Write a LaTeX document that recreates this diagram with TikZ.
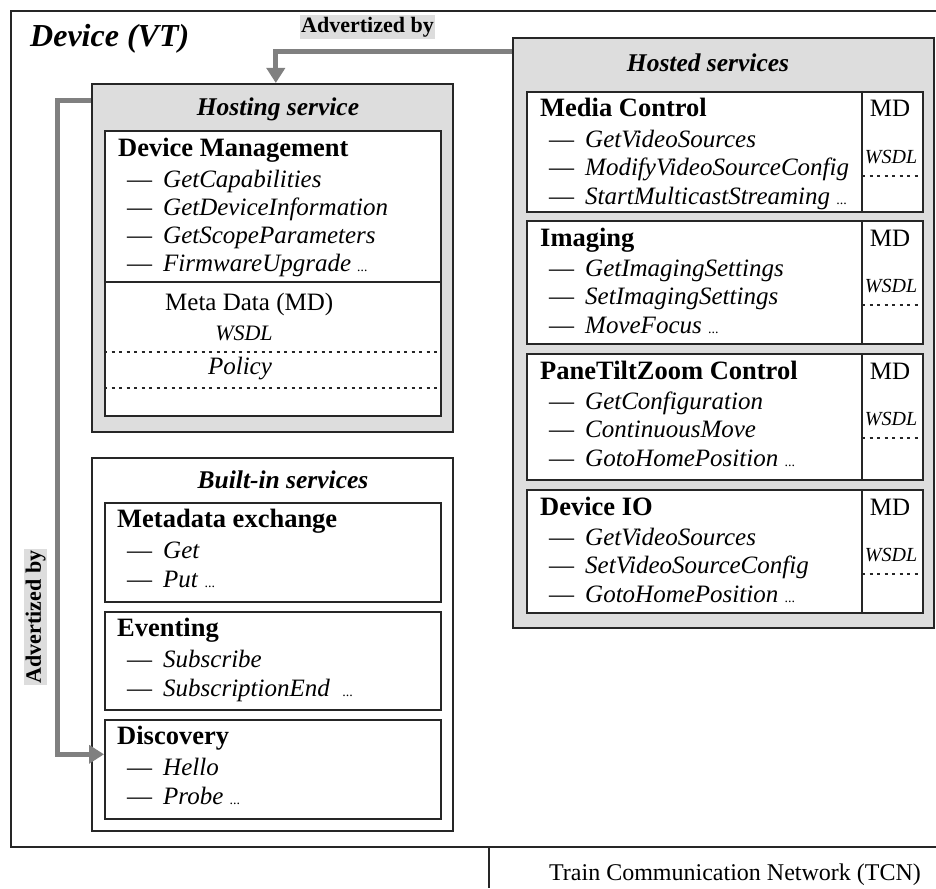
\documentclass[tikz,border=0pt]{standalone}
\usepackage{fontspec}
\setmainfont{Liberation Serif}
\usetikzlibrary{arrows.meta}
\definecolor{panelgray}{RGB}{221,221,221}
\definecolor{linkgray}{RGB}{128,128,128}
\newcommand{\moredots}{~{\fontsize{14}{14}\selectfont...}}

\begin{document}
\begin{tikzpicture}[x=1pt,y=-1pt,
  frame/.style={draw=black!85,line width=1.6pt},
  box/.style={frame,anchor=north west,inner sep=0pt,fill=white},
  head/.style={anchor=base west,inner sep=0pt,font=\fontsize{26.5}{30}\selectfont\bfseries},
  caption/.style={anchor=base,inner sep=0pt,font=\fontsize{25.5}{30}\selectfont\bfseries\itshape},
  item/.style={anchor=base west,inner sep=0pt,font=\fontsize{25}{28}\selectfont},
  small/.style={anchor=base,inner sep=0pt,font=\fontsize{20}{24}\selectfont\itshape},
  dots/.style={draw=black!85,line width=1.4pt,dash pattern=on 3pt off 4.5pt},
  link/.style={draw=linkgray,line width=5pt,-{Triangle[width=18pt,length=15pt]}},
  tag/.style={fill=panelgray,inner sep=1.5pt,font=\fontsize{22}{24}\selectfont\bfseries}]

\useasboundingbox (0,0) rectangle (936,888);

% device frame (open to the right) and the TCN below it
\draw[frame] (936,11) -- (11,11) -- (11,847) -- (936,847);
\draw[frame] (489,847) -- (489,888);
\node[anchor=base west,inner sep=0pt,font=\fontsize{32}{36}\selectfont\bfseries\itshape] (dev) at (30,47) {Device (VT)};
\node[anchor=base,inner sep=0pt,font=\fontsize{24}{28}\selectfont] (tcn) at (735,880) {Train Communication Network (TCN)};

% hosting service
\node[box,fill=panelgray,minimum width=361pt,minimum height=348pt] (hosting) at (91,83) {};
\node[caption] (hostingtitle) at (278,115) {Hosting service};
\node[box,minimum width=336pt,minimum height=285pt] (devmgmt) at (104,130) {};
\draw[frame] (104,282) -- (440,282);
\draw[dots] (104,352) -- (440,352);
\draw[dots] (104,388) -- (440,388);
\node[head] (devmgmthead) at (118,156) {Device Management};
\foreach \t [count=\i] in {GetCapabilities,GetDeviceInformation,GetScopeParameters,FirmwareUpgrade\moredots}
  \node[item] at (127,159+28*\i) {\textemdash\hspace{11pt}\textit{\t}};
\node[item] (meta) at (165,310) {Meta Data (MD)};
\node[small,font=\fontsize{22}{24}\selectfont\itshape] (wsdl) at (244,340) {WSDL};
\node[item,anchor=base] (policy) at (240,374) {\textit{Policy}};

% built-in services
\node[box,minimum width=361pt,minimum height=373pt] (builtin) at (91,457) {};
\node[caption] (builtintitle) at (283,488) {Built-in services};
\foreach \ytop/\yht/\nm/\hd/\a/\b in {502/99/mex/Metadata exchange/Get/Put,
    611/98/evt/Eventing/Subscribe/SubscriptionEnd~,
    719/99/disc/Discovery/Hello/Probe} {
  \node[box,minimum width=336pt,minimum height=\yht pt] (\nm) at (104,\ytop) {};
  \node[head] at (117,\ytop+25) {\hd};
  \node[item] at (127,\ytop+56) {\textemdash\hspace{11pt}\textit{\a}};
  \node[item] at (127,\ytop+85) {\textemdash\hspace{11pt}\textit{\b}\moredots};
}

% hosted services
\node[box,fill=panelgray,minimum width=421pt,minimum height=590pt] (hosted) at (512,37) {};
\node[caption] (hostedtitle) at (708,72) {Hosted services};
\foreach \ytop/\yht/\nm/\hd/\a/\b/\c in {91/120/media/Media Control/GetVideoSources/ModifyVideoSourceConfig/StartMulticastStreaming,
    220/123/imaging/Imaging/GetImagingSettings/SetImagingSettings/MoveFocus,
    353/126/ptz/PaneTiltZoom Control/GetConfiguration/ContinuousMove/GotoHomePosition,
    489/123/devio/Device IO/GetVideoSources/SetVideoSourceConfig/GotoHomePosition} {
  \node[box,minimum width=396pt,minimum height=\yht pt] (\nm) at (526,\ytop) {};
  \draw[frame] (862,\ytop) -- (862,\ytop+\yht);
  \draw[dots] (862,\ytop+85) -- (922,\ytop+85);
  \node[head] at (540,\ytop+26) {\hd};
  \node[item] at (549,\ytop+56) {\textemdash\hspace{11pt}\textit{\a}};
  \node[item] at (549,\ytop+84.5) {\textemdash\hspace{11pt}\textit{\b}};
  \node[item] at (549,\ytop+113) {\textemdash\hspace{11pt}\textit{\c}\moredots};
  \node[item,anchor=base] at (890,\ytop+26) {MD};
  \node[small] at (891,\ytop+72) {WSDL};
}

% advertizing links
\draw[link] ([yshift=-15pt]hosted.north west) -| ([xshift=3.5pt]hosting.north);
\draw[link] ([yshift=-18pt]hosting.north west) -- ++(-34,0) |- ([yshift=15pt]disc.west);
\node[tag] (advtop) at (367.5,27) {Advertized by};
\node[tag,rotate=90] (advleft) at (35.5,617) {Advertized by};
\end{tikzpicture}
\end{document}
